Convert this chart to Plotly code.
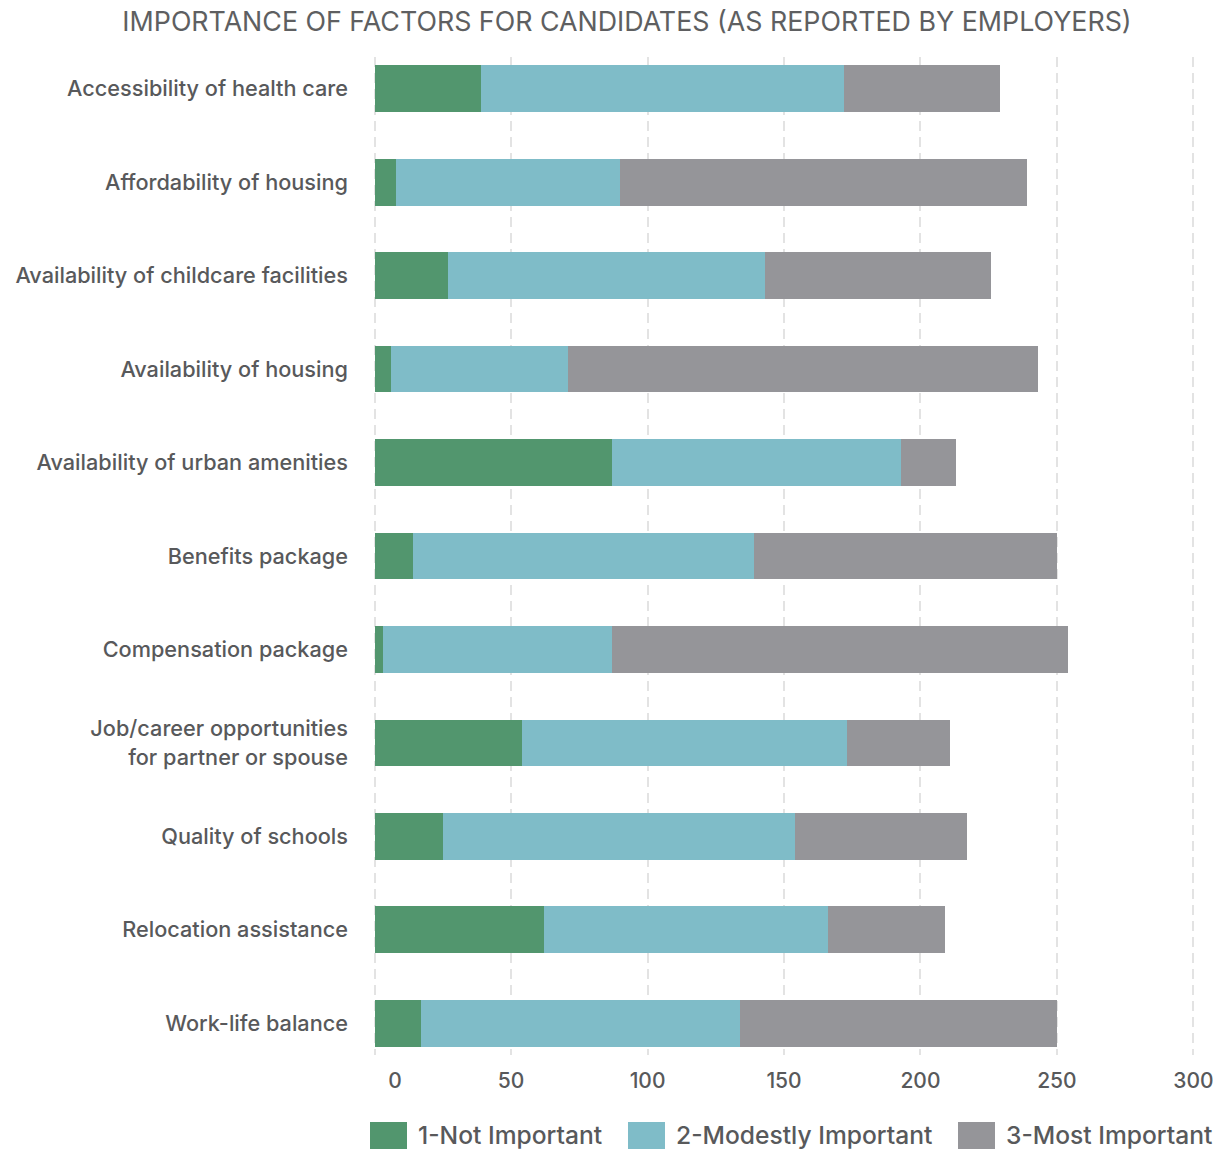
import plotly.graph_objects as go

# Factors, listed top to bottom
factors = [
    "Accessibility of health care",
    "Affordability of housing",
    "Availability of childcare facilities",
    "Availability of housing",
    "Availability of urban amenities",
    "Benefits package",
    "Compensation package",
    "Job/career opportunities<br>for partner or spouse",
    "Quality of schools",
    "Relocation assistance",
    "Work-life balance",
]

# Number of employers giving each rating
not_important = [39, 8, 27, 6, 87, 14, 3, 54, 25, 62, 17]
modestly_important = [133, 82, 116, 65, 106, 125, 84, 119, 129, 104, 117]
most_important = [57, 149, 83, 172, 20, 111, 167, 38, 63, 43, 116]

series_names = ["1-Not Important", "2-Modestly Important", "3-Most Important"]
series_values = [not_important, modestly_important, most_important]
series_colors = ["#52966E", "#7FBCC8", "#959599"]

x_tick_values = [0, 50, 100, 150, 200, 250, 300]

TITLE = "IMPORTANCE OF FACTORS FOR CANDIDATES (AS REPORTED BY EMPLOYERS)"
FONT = "Inter, 'Noto Sans', sans-serif"
TEXT_COLOR = "#58595B"

# Page and plot-area geometry (pixels)
W, H = 1223, 1151
ML, MR, MT, MB = 373, 28, 57, 96
PW, PH = W - ML - MR, H - MT - MB

fig = go.Figure()
for name, vals, color in zip(series_names, series_values, series_colors):
    fig.add_trace(go.Bar(
        y=factors, x=vals, name=name, orientation="h",
        marker=dict(color=color, line=dict(width=0)),
        showlegend=False,
        hovertemplate="%{y}: %{x}<extra>" + name + "</extra>",
    ))

# Pad the "0" label a little to the right, away from the category labels
x_tick_text = [("\u2007\u2007\u2007" + str(v)) if v == 0 else str(v) for v in x_tick_values]

fig.update_layout(
    width=W, height=H,
    margin=dict(l=ML, r=MR, t=MT, b=MB, autoexpand=False),
    paper_bgcolor="white", plot_bgcolor="white",
    barmode="stack", bargap=0.5,
    font=dict(family=FONT, color=TEXT_COLOR, size=21.7, weight=500),
    title=dict(
        text=TITLE, x=627 / W, xref="container", xanchor="center",
        y=1 - 22 / H, yref="container", yanchor="middle",
        font=dict(family=FONT, size=26.8, weight=400, color="#5E5F61"),
    ),
    xaxis=dict(
        range=[-0.6, 300.6], tickvals=x_tick_values, ticktext=x_tick_text,
        showgrid=True, gridcolor="#E3E3E3", gridwidth=2, griddash="10px,6px",
        zeroline=False, showline=False, ticks="",
        ticklabelstandoff=11,
        tickfont=dict(size=21, weight=500, color=TEXT_COLOR),
    ),
    yaxis=dict(
        categoryorder="array", categoryarray=factors,
        range=[len(factors) - 1 + 0.34, -0.34],
        showgrid=False, zeroline=False, showline=False, ticks="",
        ticklabelstandoff=24,
        tickfont=dict(size=21.7, weight=500, color=TEXT_COLOR),
    ),
)

# Legend: large colour swatches with labels below the axis
def px_x(px):
    return (px - ML) / PW

def px_y(py):
    return (H - MB - py) / PH

swatch_left = [370, 628, 958]
swatch_w, swatch_top, swatch_bottom = 37, 1122, 1149
for name, color, left in zip(series_names, series_colors, swatch_left):
    fig.add_shape(
        type="rect", xref="paper", yref="paper",
        x0=px_x(left), x1=px_x(left + swatch_w),
        y0=px_y(swatch_bottom), y1=px_y(swatch_top),
        fillcolor=color, line=dict(width=0), layer="above",
    )
    fig.add_annotation(
        xref="paper", yref="paper",
        x=px_x(left + swatch_w + 9), y=px_y(1135),
        xanchor="left", yanchor="middle", showarrow=False,
        text=name, font=dict(family=FONT, size=24.6, weight=500, color=TEXT_COLOR),
    )

fig.write_html("out.html")
